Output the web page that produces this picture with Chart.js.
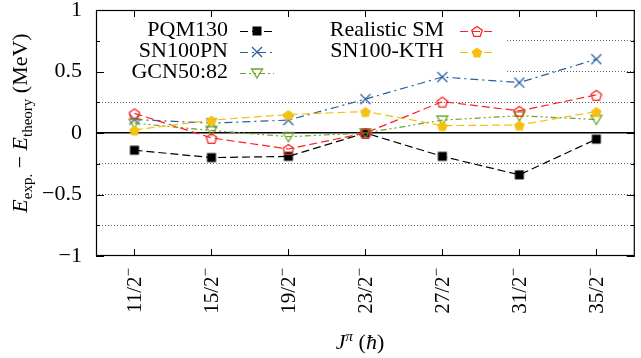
<!DOCTYPE html>
<html>
<head>
<meta charset="utf-8">
<script src="https://cdn.jsdelivr.net/npm/chart.js@4.4.0/dist/chart.umd.min.js"></script>
<style>
  html, body { margin: 0; padding: 0; background: #fff; }
  canvas { display: block; }
</style>
</head>
<body>
<canvas id="spinChart" width="641" height="358"></canvas>
<script>
// spin states on the x axis (numerator/2, negative parity)
const spins = ['11/2', '15/2', '19/2', '23/2', '27/2', '31/2', '35/2'];
const parity = '−';

// y ticks every 0.25, labels only on the major ones
const yTicks = [-1, -0.5, 0, 0.5, 1];
const yTickLabels = ['−1', '−0.5', '0', '0.5', '1'];

// E_exp - E_theory in MeV
const seriesNames = ['PQM130', 'SN100PN', 'GCN50:82', 'Realistic SM', 'SN100-KTH'];
const pqm130      = [-0.14, -0.20, -0.19,  0.00, -0.19, -0.34, -0.05];
const sn100pn     = [ 0.11,  0.08,  0.105, 0.275, 0.455, 0.41,  0.60];
const gcn5082     = [ 0.08,  0.02, -0.03,  0.00,  0.105, 0.14,  0.11];
const realisticSM = [ 0.16, -0.04, -0.13,  0.00,  0.255, 0.18,  0.31];
const sn100kth    = [ 0.025, 0.105, 0.15,  0.175, 0.06,  0.065, 0.175];

const serif = '"Liberation Serif", "DejaVu Serif", serif';

// little canvases used as point styles (and reused in the key)
function makeMarker(kind, color) {
    const c = document.createElement('canvas');
    c.width = 16; c.height = 16;
    const g = c.getContext('2d');
    const m = 8;
    g.strokeStyle = color;
    g.fillStyle = color;
    g.lineWidth = 1.3;
    g.beginPath();
    if (kind === 'square') {
        g.fillRect(m - 4.5, m - 4.5, 9, 9);
    } else if (kind === 'cross') {
        g.moveTo(m - 5, m - 5); g.lineTo(m + 5, m + 5);
        g.moveTo(m + 5, m - 5); g.lineTo(m - 5, m + 5);
        g.stroke();
    } else if (kind === 'triDown') {
        g.moveTo(m - 5.5, m - 4); g.lineTo(m + 5.5, m - 4); g.lineTo(m, m + 5);
        g.closePath();
        g.stroke();
    } else {
        for (let i = 0; i < 5; i++) {
            const a = (-90 + 72 * i) * Math.PI / 180;
            const px = m + 5.5 * Math.cos(a), py = m + 1 + 5.5 * Math.sin(a);
            if (i === 0) g.moveTo(px, py); else g.lineTo(px, py);
        }
        g.closePath();
        if (kind === 'pentFill') g.fill(); else g.stroke();
    }
    return c;
}

const styles = [
    { color: '#000000', dash: [8, 4], marker: makeMarker('square', '#000000') },
    { color: '#2a5f9e', dash: [8, 4, 2, 4], marker: makeMarker('cross', '#2a5f9e') },
    { color: '#6fa32a', dash: [6, 3, 2, 3, 2, 3], marker: makeMarker('triDown', '#6fa32a') },
    { color: '#ff2020', dash: [8, 4], marker: makeMarker('pentOpen', '#ff2020') },
    { color: '#f5c010', dash: [8, 4], marker: makeMarker('pentFill', '#f5c010') }
];

const allSeries = [pqm130, sn100pn, gcn5082, realisticSM, sn100kth];

const datasets = allSeries.map((vals, i) => ({
    label: seriesNames[i],
    data: vals,
    borderColor: styles[i].color,
    backgroundColor: styles[i].color,
    borderWidth: 1.2,
    borderDash: styles[i].dash,
    pointStyle: styles[i].marker,
    pointRadius: 5,
    tension: 0,
    fill: false,
    order: allSeries.length - 1 - i
}));

function drawSegs(ctx, segs, cx, cy, rot, base, align) {
    ctx.save();
    ctx.translate(cx, cy);
    ctx.rotate(rot);
    ctx.textAlign = 'left';
    ctx.textBaseline = 'alphabetic';
    ctx.fillStyle = '#000';
    let w = 0;
    segs.forEach(s => { ctx.font = s.f + serif; s.w = ctx.measureText(s.t).width; w += s.w; });
    let x = align === 'right' ? -w : -w / 2;
    segs.forEach(s => {
        ctx.font = s.f + serif;
        ctx.fillText(s.t, x, base + s.dy);
        x += s.w;
    });
    ctx.restore();
}

// white key box, key entries, frame, inward ticks, x labels and axis titles
const framePlugin = {
    id: 'framePlugin',
    beforeDatasetsDraw(chart) {
        const ctx = chart.ctx;
        const a = chart.chartArea;
        ctx.save();
        ctx.fillStyle = '#fff';
        ctx.fillRect(a.left + 1, a.top + 1, 409, 65);
        ctx.restore();
    },
    afterDraw(chart) {
        const ctx = chart.ctx;
        const a = chart.chartArea;
        const xs = chart.scales.x, ys = chart.scales.y;
        ctx.save();

        // frame
        ctx.strokeStyle = '#000';
        ctx.lineWidth = 1.2;
        ctx.strokeRect(a.left + 0.5, a.top + 0.5, a.right - a.left - 1, a.bottom - a.top - 1);

        // inward ticks
        ctx.lineWidth = 1;
        ctx.beginPath();
        ys.ticks.forEach(t => {
            const py = Math.round(ys.getPixelForValue(t.value)) + 0.5;
            const len = yTicks.includes(t.value) ? 8 : 4;
            ctx.moveTo(a.left, py); ctx.lineTo(a.left + len, py);
            ctx.moveTo(a.right, py); ctx.lineTo(a.right - len, py);
        });
        spins.forEach((s, i) => {
            const px = Math.round(xs.getPixelForValue(i)) + 0.5;
            ctx.moveTo(px, a.top); ctx.lineTo(px, a.top + 7);
            ctx.moveTo(px, a.bottom); ctx.lineTo(px, a.bottom - 7);
        });
        ctx.stroke();

        // rotated x labels with superscript parity
        spins.forEach((s, i) => {
            const px = xs.getPixelForValue(i);
            drawSegs(ctx, [
                { t: s, f: '21px ', dy: 0 },
                { t: parity, f: '15px ', dy: -8 }
            ], px, a.bottom + 12, -Math.PI / 2, 7, 'right');
        });

        // key
        const keyPos = [
            { tx: 228, x0: 240, x1: 274, y: 31 },
            { tx: 228, x0: 240, x1: 274, y: 52 },
            { tx: 228, x0: 240, x1: 274, y: 73 },
            { tx: 444, x0: 460, x1: 494, y: 31 },
            { tx: 444, x0: 460, x1: 494, y: 52 }
        ];
        ctx.font = '22px ' + serif;
        ctx.textAlign = 'right';
        ctx.textBaseline = 'middle';
        seriesNames.forEach((name, i) => {
            const k = keyPos[i];
            ctx.fillStyle = '#000';
            ctx.fillText(name, k.tx, k.y - 1);
            ctx.strokeStyle = styles[i].color;
            ctx.lineWidth = 1.2;
            ctx.setLineDash(styles[i].dash);
            ctx.beginPath();
            ctx.moveTo(k.x0, k.y + 0.5); ctx.lineTo(k.x1, k.y + 0.5);
            ctx.stroke();
            ctx.setLineDash([]);
            const mk = styles[i].marker;
            ctx.drawImage(mk, (k.x0 + k.x1) / 2 - mk.width / 2, k.y - mk.height / 2);
        });

        // y title with subscripts
        drawSegs(ctx, [
            { t: 'E', f: 'italic 22px ', dy: 0 },
            { t: 'exp.', f: '15px ', dy: 5 },
            { t: ' − ', f: '22px ', dy: 0 },
            { t: 'E', f: 'italic 22px ', dy: 0 },
            { t: 'theory', f: '15px ', dy: 5 },
            { t: ' (MeV)', f: '22px ', dy: 0 }
        ], 20, 123, -Math.PI / 2, 7);

        // x title
        drawSegs(ctx, [
            { t: 'J', f: 'italic 22px ', dy: 0 },
            { t: 'π', f: 'italic 15px ', dy: -8 },
            { t: ' (', f: '22px ', dy: 0 },
            { t: 'ħ', f: 'italic 22px ', dy: 0 },
            { t: ')', f: '22px ', dy: 0 }
        ], 360, 342, 0, 7);

        ctx.restore();
    }
};

new Chart(document.getElementById('spinChart'), {
    type: 'line',
    data: { labels: spins, datasets: datasets },
    options: {
        responsive: false,
        animation: false,
        layout: { padding: { top: 10, right: 1, left: 0, bottom: 0 } },
        plugins: { legend: { display: false }, tooltip: { enabled: false } },
        scales: {
            x: {
                type: 'category',
                offset: true,
                grid: { display: false, drawTicks: false },
                border: { display: false },
                ticks: { display: false },
                afterFit: s => {
                    s.height = 102;
                    s.paddingLeft = 0; s.paddingRight = 0;
                }
            },
            y: {
                min: -1,
                max: 1,
                grid: {
                    drawTicks: false,
                    color: c => c.tick.value === 0 ? '#000' : (Math.abs(c.tick.value) === 1 ? 'rgba(0,0,0,0)' : '#666'),
                    lineWidth: c => c.tick.value === 0 ? 1.6 : 1
                },
                border: {
                    display: false,
                    dash: c => c.tick && c.tick.value === 0 ? [] : [1, 2]
                },
                ticks: {
                    stepSize: 0.25,
                    autoSkip: false,
                    padding: 14,
                    color: '#000',
                    font: { family: serif, size: 22 },
                    callback: v => {
                        const i = yTicks.findIndex(t => Math.abs(t - v) < 1e-9);
                        return i >= 0 ? yTickLabels[i] : '';
                    }
                },
                afterFit: s => {
                    s.width = 96;
                    s.paddingTop = 0; s.paddingBottom = 0;
                }
            }
        }
    },
    plugins: [framePlugin]
});
</script>
</body>
</html>
